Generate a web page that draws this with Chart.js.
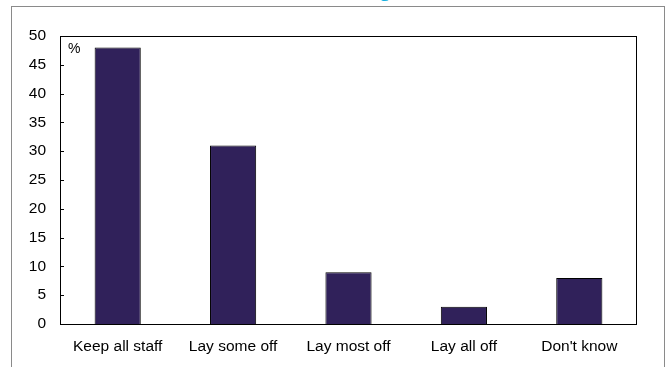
<!DOCTYPE html>
<html>
<head>
<meta charset="utf-8">
<script src="https://cdn.jsdelivr.net/npm/chart.js@4/dist/chart.umd.min.js"></script>
<style>
  html, body { margin: 0; padding: 0; background: #fff; overflow: hidden; }
  #wrap { position: relative; width: 666px; height: 367px; }
  #frame { position: absolute; left: 11px; top: 6px; width: 652px; height: 400px;
           border: 1px solid #8a8a8a; border-bottom: none; }
  #chart { position: absolute; left: 0; top: 0; }
</style>
</head>
<body>
<div id="wrap">
  <div id="frame"></div>
  <canvas id="chart" width="666" height="367"></canvas>
</div>
<script>
// answers to the staffing question
const categories = ["Keep all staff", "Lay some off", "Lay most off", "Lay all off", "Don't know"];
const percentages = [48, 31, 9, 3, 8];
const yTicks = [0, 5, 10, 15, 20, 25, 30, 35, 40, 45, 50];

const FONT = "'Liberation Sans', Arial, sans-serif";

// box round the plot, inward ticks, "%" unit and the clipped title descender
const extras = {
  id: "extras",
  afterDraw(chart) {
    const { ctx, chartArea: a } = chart;
    const y = chart.scales.y;
    ctx.save();
    ctx.strokeStyle = "#000";
    ctx.lineWidth = 1;
    ctx.strokeRect(a.left + 0.5, a.top + 0.5, a.right - a.left - 1, a.bottom - a.top);
    ctx.beginPath();
    yTicks.forEach(v => {
      const py = Math.round(y.getPixelForValue(v)) + 0.5;
      ctx.moveTo(a.left, py);
      ctx.lineTo(a.left + 4, py);
    });
    ctx.stroke();
    ctx.fillStyle = "#000";
    ctx.font = "14px " + FONT;
    ctx.textBaseline = "middle";
    ctx.fillText("%", a.left + 8, 49);
    // bottom of the cyan title, mostly off the top of the picture
    ctx.fillStyle = "#1ab0e0";
    ctx.font = "bold 22px " + FONT;
    ctx.textBaseline = "alphabetic";
    ctx.textAlign = "right";
    ctx.fillText("g", 392, -4);
    ctx.restore();
  }
};

new Chart(document.getElementById("chart"), {
  type: "bar",
  data: {
    labels: categories,
    datasets: [{
      data: percentages,
      backgroundColor: "#30215a",
      borderColor: "#000",
      borderWidth: 1,
      barPercentage: 0.8,
      categoryPercentage: 0.5
    }]
  },
  options: {
    responsive: false,
    animation: false,
    layout: { padding: { top: 36, right: 29, left: 0, bottom: 0 } },
    plugins: { legend: { display: false }, tooltip: { enabled: false } },
    scales: {
      x: {
        grid: { display: false, drawTicks: false },
        border: { display: false },
        ticks: { color: "#000", font: { family: FONT, size: 15.5 }, padding: 13, maxRotation: 0 },
        afterFit: s => { s.height = 43; }
      },
      y: {
        min: 0,
        max: 50,
        grid: { display: false, drawTicks: false },
        border: { display: false },
        afterBuildTicks: s => { s.ticks = yTicks.map(v => ({ value: v })); },
        ticks: { color: "#000", font: { family: FONT, size: 15.5 }, padding: 14 },
        afterFit: s => { s.width = 60; }
      }
    }
  },
  plugins: [extras]
});
</script>
</body>
</html>
